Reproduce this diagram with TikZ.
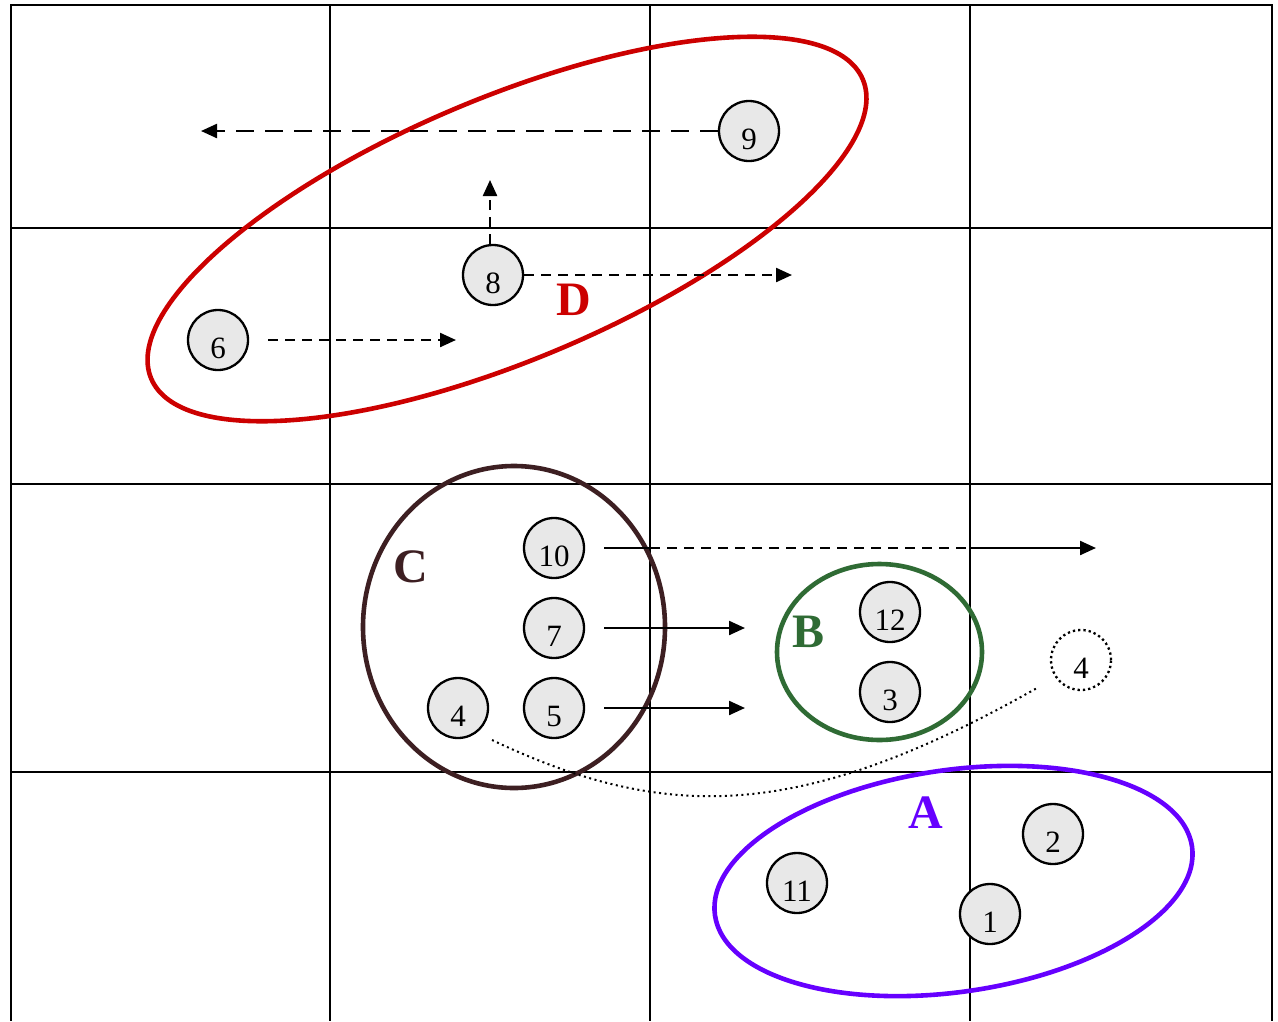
\documentclass[tikz,border=0pt]{standalone}
\usepackage{fontspec}
\setmainfont{Liberation Serif}
\usetikzlibrary{arrows.meta}
\definecolor{dred}{HTML}{CC0000}
\definecolor{cbrown}{HTML}{3D1F22}
\definecolor{bgreen}{HTML}{2F6B34}
\definecolor{apurple}{HTML}{6600FF}
\definecolor{nodefill}{HTML}{E8E8E8}
\begin{document}
\begin{tikzpicture}[x=1pt,y=-1pt,
  gridline/.style={line width=2.3pt},
  num/.style={circle, draw, line width=2.3pt, fill=nodefill, inner sep=0pt,
    minimum size=60pt, text height=36pt, text depth=0pt,
    font=\fontsize{31}{31}\selectfont},
  ghost/.style={num, fill=none, dash pattern=on 2.3pt off 3pt},
  arr/.style={line width=2.3pt, -{Triangle[length=16pt,width=14pt]}},
  dsh/.style={dash pattern=on 10pt off 7pt},
  longdsh/.style={dash pattern=on 18pt off 11pt},
  grp/.style={line width=4.6pt},
  glabel/.style={font=\fontsize{48}{48}\selectfont\bfseries}]

\useasboundingbox (0,0) rectangle (1278,1021);
\fill[white] (0,0) rectangle (1278,1021);

% grid
\foreach \x in {11,330,650,970,1272}
  \draw[gridline] (\x,5) -- (\x,1021);
\foreach \y in {5,228,484,772}
  \draw[gridline] (10,\y) -- (1273,\y);

% groups
\draw[grp, dred, rotate around={22.8:(507,229)}] (507,229) ellipse [x radius=386pt, y radius=131pt];
\draw[grp, cbrown] (514,627) ellipse [x radius=151pt, y radius=161pt];
\draw[grp, bgreen] (879.5,652) ellipse [x radius=102.5pt, y radius=88pt];
\draw[grp, apurple, rotate around={8.2:(953.5,881)}] (953.5,881) ellipse [x radius=241pt, y radius=111pt];

\node[glabel, text=dred] (lD) at (574,300) {D};
\node[glabel, text=cbrown] (lC) at (411,567) {C};
\node[glabel, text=bgreen] (lB) at (809,632) {B};
\node[glabel, text=apurple] (lA) at (926,813) {A};

% nodes
\node[num] (n9) at (749,131) {9};
\node[num] (n8) at (493,275) {8};
\node[num] (n6) at (218,340) {6};
\node[num] (n10) at (554,548) {10};
\node[num] (n7) at (554,628) {7};
\node[num] (n5) at (554,708) {5};
\node[num] (n4) at (458,708) {4};
\node[num] (n12) at (890,612) {12};
\node[num] (n3) at (890,692) {3};
\node[ghost] (g4) at (1081,660) {4};
\node[num] (n11) at (797,883) {11};
\node[num] (n2) at (1053,834) {2};
\node[num] (n1) at (990,914) {1};

% arrow ends
\coordinate (e9) at (201,131);
\coordinate (e8u) at (490,180);
\coordinate (e8r) at (792,275);
\coordinate (e6) at (456,340);
\coordinate (s10) at (604,548);
\coordinate (m10a) at (650,548);
\coordinate (m10b) at (970,548);
\coordinate (e10) at (1096,548);
\coordinate (e7) at (745,628);
\coordinate (e5) at (745,708);
\coordinate (c4a) at (492,740);
\coordinate (c4b) at (1037,688);

\draw[arr, longdsh] (n9.west) -- (e9);
\draw[arr, dsh] (n8.north -| e8u) -- (e8u);
\draw[arr, dsh] (n8.east) -- (e8r);
\draw[arr, dsh, shorten <=19pt] (n6.east) -- (e6);
\draw[line width=2.3pt] (s10) -- (m10a);
\draw[line width=2.3pt, dsh] (m10a) -- (m10b);
\draw[arr] (m10b) -- (e10);
\draw[arr, shorten <=19pt] (n7.east) -- (e7);
\draw[arr, shorten <=19pt] (n5.east) -- (e5);

% path of node 4
\draw[line width=2pt, dash pattern=on 2pt off 3.5pt] (c4a) .. controls (665,822) and (800,822) .. (c4b);
\end{tikzpicture}
\end{document}
